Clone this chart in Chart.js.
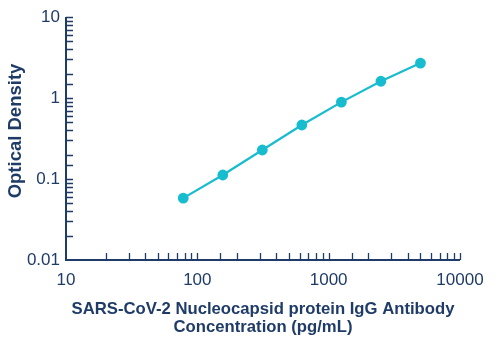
<!DOCTYPE html>
<html>
<head>
<meta charset="utf-8">
<script src="https://cdn.jsdelivr.net/npm/chart.js@4.4.1/dist/chart.umd.min.js"></script>
<style>
  html, body { margin: 0; padding: 0; background: #fff; }
  #wrap { width: 500px; height: 341px; }
</style>
</head>
<body>
<div id="wrap"><canvas id="chart" width="500" height="341"></canvas></div>
<script>
// data
const concentrations = [78.125, 156.25, 312.5, 625, 1250, 2500, 5000];
const opticalDensity = [0.058, 0.112, 0.228, 0.464, 0.89, 1.61, 2.70];
const xLabels = [10, 100, 1000, 10000];
const yLabels = [0.01, 0.1, 1, 10];

const navy = '#1f3b68';
const cyan = '#17bccf';
const fontFamily = '"Liberation Sans", Arial, sans-serif';

const isDecade = (v, list) => list.some(d => Math.abs(v - d) / d < 1e-6);

// ticks point into the plot, so draw them ourselves from the scales
const inwardTicks = {
  id: 'inwardTicks',
  afterDraw(chart) {
    const { ctx, chartArea, scales: { x, y } } = chart;
    ctx.save();
    ctx.strokeStyle = navy;
    ctx.lineWidth = 2;
    ctx.beginPath();
    ctx.moveTo(chartArea.left, chartArea.top);
    ctx.lineTo(chartArea.left, chartArea.bottom);
    ctx.lineTo(chartArea.right, chartArea.bottom);
    ctx.stroke();

    ctx.lineWidth = 1.3;
    ctx.beginPath();
    x.ticks.forEach(t => {
      if (t.value <= x.min) return;
      const px = Math.round(x.getPixelForValue(t.value)) + 0.5;
      ctx.moveTo(px, chartArea.bottom);
      ctx.lineTo(px, chartArea.bottom - 7);
    });
    y.ticks.forEach(t => {
      if (t.value <= y.min) return;
      const py = Math.round(y.getPixelForValue(t.value)) + 0.5;
      ctx.moveTo(chartArea.left, py);
      ctx.lineTo(chartArea.left + 7, py);
    });
    ctx.stroke();

    // y title sits above centre in the original
    ctx.fillStyle = navy;
    ctx.font = 'bold 18.5px ' + fontFamily;
    ctx.textAlign = 'center';
    ctx.textBaseline = 'middle';
    ctx.translate(16, 131);
    ctx.rotate(-Math.PI / 2);
    ctx.fillText('Optical Density', 0, 0);
    ctx.restore();
  }
};

new Chart(document.getElementById('chart'), {
  type: 'line',
  data: {
    datasets: [{
      data: concentrations.map((c, i) => ({ x: c, y: opticalDensity[i] })),
      borderColor: cyan,
      backgroundColor: cyan,
      borderWidth: 2.2,
      pointRadius: 4.3,
      pointHoverRadius: 4.3,
      tension: 0
    }]
  },
  options: {
    responsive: false,
    animation: false,
    layout: { padding: { top: 17, right: 40, left: 0, bottom: 0 } },
    plugins: { legend: { display: false }, tooltip: { enabled: false } },
    scales: {
      x: {
        type: 'logarithmic',
        min: 10,
        max: 10000,
        border: { display: false },
        grid: { display: false, drawTicks: false },
        ticks: {
          autoSkip: false,
          maxRotation: 0,
          padding: 10,
          color: navy,
          font: { family: fontFamily, size: 17 },
          callback: v => isDecade(v, xLabels) ? String(v) : ''
        },
        title: {
          display: true,
          text: ['SARS-CoV-2 Nucleocapsid protein IgG Antibody', 'Concentration (pg/mL)'],
          color: navy,
          font: { family: fontFamily, size: 16.7, weight: 'bold', lineHeight: 1.05 },
          padding: { top: 8, bottom: 5 }
        },
        afterFit: s => { s.height = 81; }
      },
      y: {
        type: 'logarithmic',
        min: 0.01,
        max: 10,
        border: { display: false },
        grid: { display: false, drawTicks: false },
        ticks: {
          autoSkip: false,
          padding: 6,
          color: navy,
          font: { family: fontFamily, size: 17 },
          callback: v => isDecade(v, yLabels) ? String(v) : ''
        },
        afterFit: s => { s.width = 66; }
      }
    }
  },
  plugins: [inwardTicks]
});
</script>
</body>
</html>
